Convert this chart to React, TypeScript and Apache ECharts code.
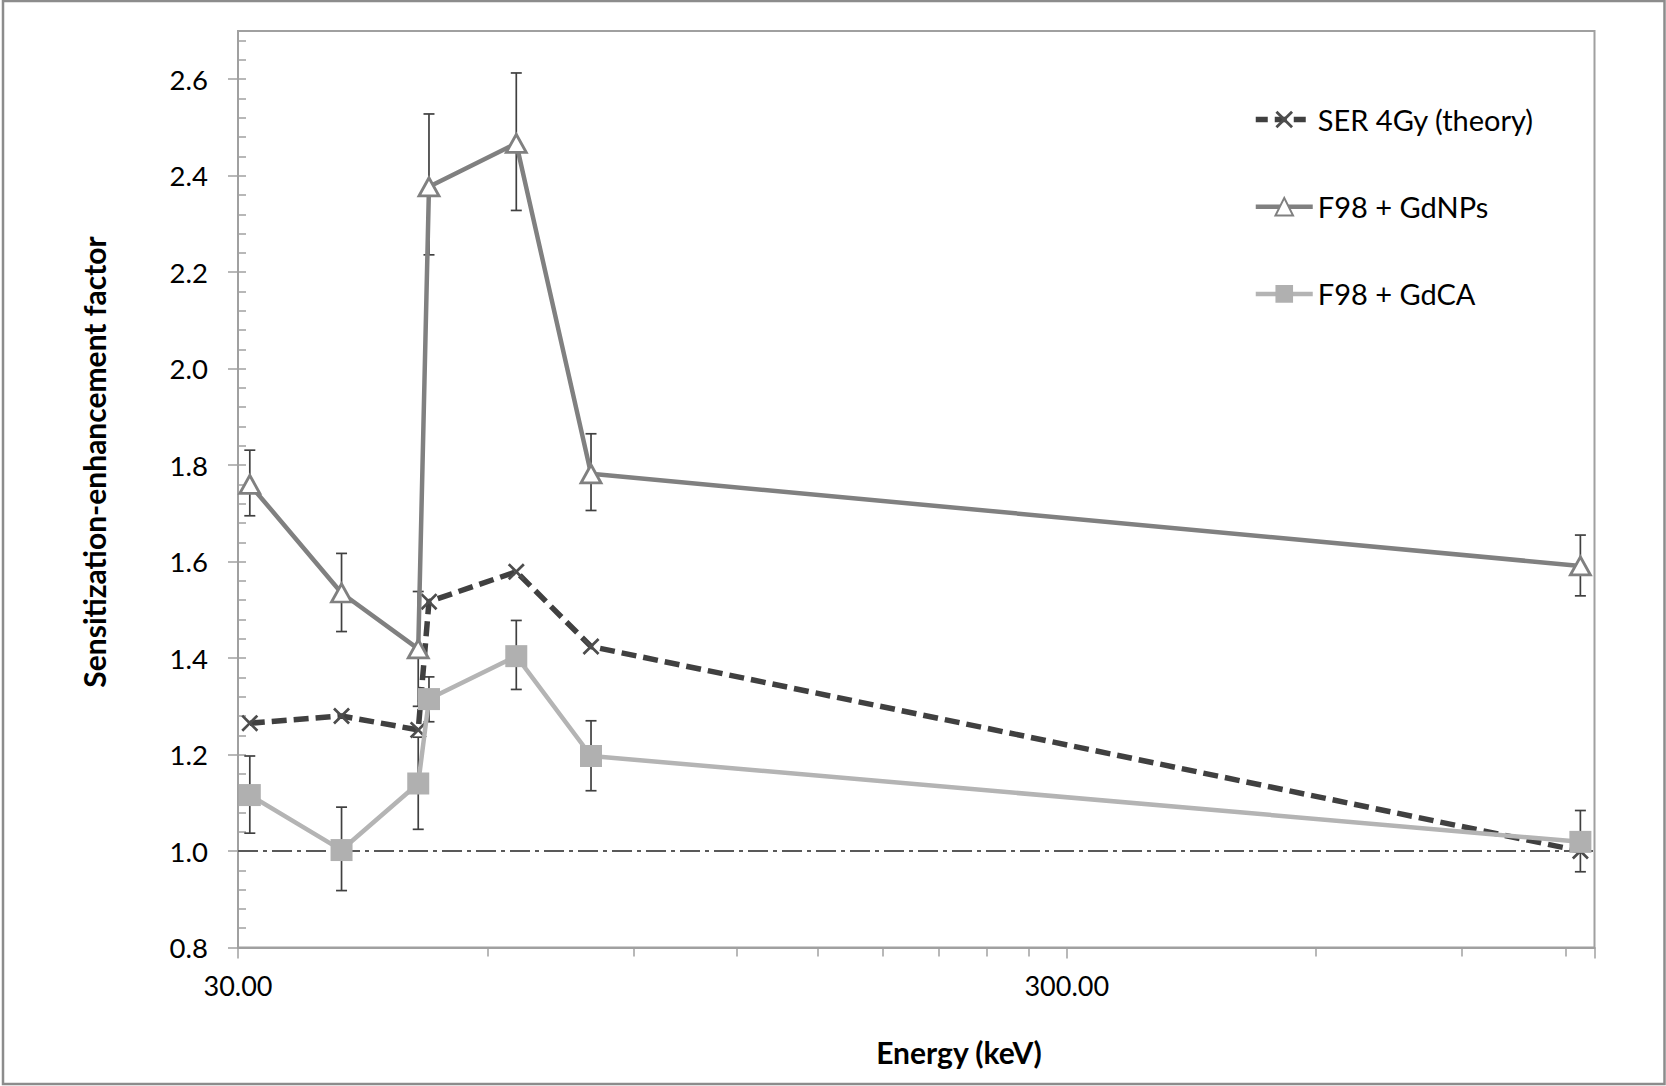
import React, { useEffect, useRef } from 'react';
import * as echarts from 'echarts';

// ---- data ----
const X_MIN = 30; // keV, axis start
const X_MAX = 1300; // keV, axis end
const energies = [31, 40, 49.5, 51, 65, 80, 1250];
const serTheory = [1.265, 1.28, 1.251, 1.517, 1.579, 1.424, 1.0];
const gdNPs = [1.76, 1.535, 1.419, 2.377, 2.467, 1.782, 1.591];
const gdNPsLow = [1.695, 1.455, 1.3, 2.236, 2.328, 1.706, 1.529];
const gdNPsHigh = [1.831, 1.617, 1.538, 2.528, 2.613, 1.865, 1.655];
const gdCA = [1.116, 1.002, 1.14, 1.315, 1.404, 1.197, 1.019];
const gdCALow = [1.037, 0.918, 1.045, 1.268, 1.335, 1.125, 0.957];
const gdCAHigh = [1.197, 1.091, 1.236, 1.361, 1.478, 1.27, 1.084];
const xLabelValues = [30, 300];
const xMinorTicks = [60, 90, 120, 150, 180, 210, 240, 270, 600, 900, 1200];
const yTickValues = [0.8, 1.0, 1.2, 1.4, 1.6, 1.8, 2.0, 2.2, 2.4, 2.6];
const Y_MIN = 0.8;
const Y_MAX = 2.7;
const REF_LEVEL = 1.0;
const seriesNames = ['SER 4Gy (theory)', 'F98 + GdNPs', 'F98 + GdCA'];

const lx = (e: number) => Math.log10(e / X_MIN);
const FONT = 'Lato';
const AXIS_COLOR = '#a0a0a0';
const ERR_COLOR = '#404040';

const X_SYMBOL =
  'path://M0,1.8L1.8,0L8,6.2L14.2,0L16,1.8L9.8,8L16,14.2L14.2,16L8,9.8L1.8,16L0,14.2L6.2,8Z';

function errorSeries(lows: number[], highs: number[], z: number) {
  return {
    type: 'custom',
    silent: true,
    z,
    encode: { x: 0, y: [1, 2] },
    data: energies.map((e, i) => [lx(e), lows[i], highs[i]]),
    renderItem: (params: any, api: any) => {
      const x = api.value(0);
      const pLo = api.coord([x, api.value(1)]);
      const pHi = api.coord([x, api.value(2)]);
      const w = 5.5;
      const style = { stroke: ERR_COLOR, lineWidth: 1.7 };
      return {
        type: 'group',
        children: [
          { type: 'line', shape: { x1: pLo[0], y1: pLo[1], x2: pHi[0], y2: pHi[1] }, style },
          { type: 'line', shape: { x1: pLo[0] - w, y1: pLo[1], x2: pLo[0] + w, y2: pLo[1] }, style },
          { type: 'line', shape: { x1: pHi[0] - w, y1: pHi[1], x2: pHi[0] + w, y2: pHi[1] }, style },
        ],
      };
    },
  };
}

export default function App() {
  const ref = useRef<HTMLDivElement>(null);
  useEffect(() => {
    if (!ref.current) return;
    const chart = echarts.init(ref.current, null, { renderer: 'svg' });
    const xMaxL = lx(X_MAX);
    const option: any = {
      animation: false,
      backgroundColor: '#ffffff',
      grid: {
        left: 238,
        right: 71.5,
        top: 31,
        bottom: 138.5,
        show: true,
        borderColor: AXIS_COLOR,
        borderWidth: 2,
        backgroundColor: 'transparent',
      },
      legend: {
        orient: 'vertical',
        left: 1248,
        top: 100,
        itemWidth: 57,
        itemHeight: 22,
        itemGap: 58.2,
        selectedMode: false,
        textStyle: {
          fontFamily: FONT,
          fontSize: 29,
          color: '#000',
          lineHeight: 22,
        },
        data: [
          { name: seriesNames[0], lineStyle: { width: 5.5, type: [12, 7] } },
          { name: seriesNames[1], lineStyle: { width: 4.5 } },
          { name: seriesNames[2], lineStyle: { width: 4.5 } },
        ],
      },
      xAxis: [
        {
          type: 'value',
          position: 'bottom',
          min: 0,
          max: xMaxL,
          interval: 1,
          axisLine: { show: true, onZero: false, lineStyle: { color: AXIS_COLOR, width: 2 } },
          axisTick: { show: true, inside: false, length: 11, lineStyle: { color: AXIS_COLOR, width: 1.5 } },
          axisLabel: {
            show: true,
            customValues: xLabelValues.map(lx),
            margin: 24,
            fontFamily: FONT,
            fontSize: 27,
            color: '#000',
            formatter: (v: number) => (X_MIN * Math.pow(10, v)).toFixed(2),
          },
          splitLine: { show: false },
        },
        {
          type: 'value',
          position: 'bottom',
          min: 0,
          max: xMaxL,
          interval: 1,
          axisLine: { show: false },
          axisTick: {
            show: true,
            inside: false,
            length: 9,
            customValues: xMinorTicks.map(lx),
            lineStyle: { color: AXIS_COLOR, width: 1.5 },
          },
          axisLabel: { show: false },
          splitLine: { show: false },
        },
      ],
      yAxis: [
        {
          type: 'value',
          position: 'left',
          min: Y_MIN,
          max: Y_MAX,
          interval: 0.2,
          axisLine: { show: true, onZero: false, lineStyle: { color: AXIS_COLOR, width: 2 } },
          axisTick: {
            show: true,
            inside: false,
            length: 10,
            customValues: yTickValues,
            lineStyle: { color: AXIS_COLOR, width: 1.5 },
          },
          axisLabel: {
            show: true,
            customValues: yTickValues,
            margin: 30,
            fontFamily: FONT,
            fontSize: 27.5,
            color: '#000',
            formatter: (v: number) => v.toFixed(1),
          },
          splitLine: { show: false },
        },
        {
          type: 'value',
          position: 'left',
          min: Y_MIN,
          max: Y_MAX,
          interval: 0.04,
          axisLine: { show: false },
          axisTick: { show: true, inside: true, length: 8, lineStyle: { color: AXIS_COLOR, width: 1.5 } },
          axisLabel: { show: false },
          splitLine: { show: false },
        },
      ],
      graphic: [
        {
          type: 'rect',
          shape: { x: 3, y: 1, width: 1661.5, height: 1083 },
          style: { fill: 'none', stroke: '#8c8c8c', lineWidth: 2.5 },
          silent: true,
        },
        {
          type: 'text',
          x: 94,
          y: 462,
          rotation: Math.PI / 2,
          style: {
            text: 'Sensitization-enhancement factor',
            fontFamily: FONT,
            fontWeight: 'bold',
            fontSize: 30,
            fill: '#000',
            textAlign: 'center',
            textVerticalAlign: 'middle',
          },
        },
        {
          type: 'text',
          x: 959,
          y: 1052,
          style: {
            text: 'Energy (keV)',
            fontFamily: FONT,
            fontWeight: 'bold',
            fontSize: 30,
            fill: '#000',
            textAlign: 'center',
            textVerticalAlign: 'middle',
          },
        },
      ],
      series: [
        errorSeries(gdNPsLow, gdNPsHigh, 1),
        errorSeries(gdCALow, gdCAHigh, 1),
        {
          name: seriesNames[0],
          type: 'line',
          z: 3,
          data: energies.map((e, i) => [lx(e), serTheory[i]]),
          symbol: X_SYMBOL,
          symbolSize: 17,
          lineStyle: { color: '#404040', width: 5.5, type: [15, 7] },
          itemStyle: { color: '#4d4d4d' },
          markLine: {
            silent: true,
            symbol: 'none',
            label: { show: false },
            lineStyle: { color: '#595959', width: 1.8, type: [20, 5, 4, 5] },
            data: [{ yAxis: REF_LEVEL }],
            z: 1,
          },
        },
        {
          name: seriesNames[1],
          type: 'line',
          z: 4,
          data: energies.map((e, i) => [lx(e), gdNPs[i]]),
          symbol: 'triangle',
          symbolSize: [20, 18],
          lineStyle: { color: '#808080', width: 4.5 },
          itemStyle: { color: '#ffffff', borderColor: '#808080', borderWidth: 2.8 },
        },
        {
          name: seriesNames[2],
          type: 'line',
          z: 5,
          data: energies.map((e, i) => [lx(e), gdCA[i]]),
          symbol: 'rect',
          symbolSize: 22,
          lineStyle: { color: '#b4b4b4', width: 4.5 },
          itemStyle: { color: '#b0b0b0' },
        },
      ],
    };
    chart.setOption(option);
    return () => chart.dispose();
  }, []);
  return (
    <div
      ref={ref}
      style={{ position: 'absolute', left: 0, top: 0, width: 1666, height: 1086, background: '#fff' }}
    />
  );
}
